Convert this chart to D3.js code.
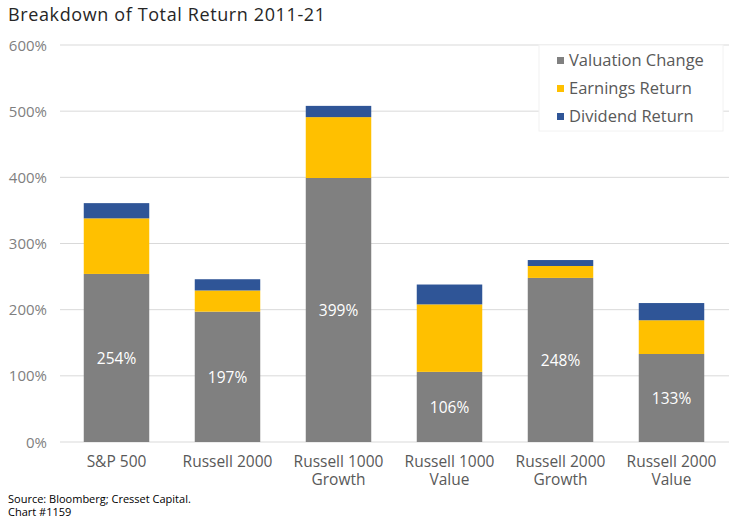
<!DOCTYPE html>
<html><head><meta charset="utf-8">
<script src="https://cdn.jsdelivr.net/npm/d3@7"></script>
<style>body{margin:0;background:#fff}svg{font-family:"Open Sans","Lato",sans-serif}</style>
</head><body>
<svg id="c" width="730" height="530"></svg>
<script>
const categories = [["S&P 500"],["Russell 2000"],["Russell 1000","Growth"],["Russell 1000","Value"],["Russell 2000","Growth"],["Russell 2000","Value"]];
const seriesNames = ["Valuation Change","Earnings Return","Dividend Return"];
const valuation = [254,197,399,106,248,133];
const earnings = [84,32,92,102,18,51];
const dividend = [23,17,17,30,9,26];
const yTicks = [0,100,200,300,400,500,600];
const colors = ["#808080","#FFC000","#2F5597"];

const svg = d3.select("#c");
const x = d3.scaleBand().domain(d3.range(categories.length)).range([61,727]).paddingInner(0.41).paddingOuter(0.205);
const y = d3.scaleLinear().domain([0,600]).range([442,45]);

svg.append("text").attr("x",8).attr("y",21).attr("font-size",18).attr("fill","#262626").attr("textLength",317).text("Breakdown of Total Return 2011-21");

const g = svg.append("g");
g.selectAll("line.grid").data(yTicks).join("line").attr("x1",60).attr("x2",729)
 .attr("y1",d=>y(d)).attr("y2",d=>y(d)).attr("stroke","#d9d9d9").attr("stroke-width",1);
g.selectAll("text.yt").data(yTicks).join("text").attr("x",47).attr("y",d=>y(d)+5.5)
 .attr("text-anchor","end").attr("font-size",15).attr("fill","#7f7f7f").text(d=>d+"%");

const data = valuation.map((v,i)=>({i, vals:[v,earnings[i],dividend[i]]}));
const stacked = d3.stack().keys([0,1,2]).value((d,k)=>d.vals[k])(data);
stacked.forEach((s,k)=>{
  g.selectAll("rect.s"+k).data(s).join("rect")
   .attr("x",d=>x(d.data.i)).attr("width",x.bandwidth())
   .attr("y",d=>y(d[1])).attr("height",d=>y(d[0])-y(d[1]))
   .attr("fill",colors[k]);
});
g.selectAll("text.lab").data(data).join("text")
 .attr("x",d=>x(d.i)+x.bandwidth()/2).attr("y",d=>y(d.vals[0]/2)+6)
 .attr("text-anchor","middle").attr("font-size",15.5).attr("fill","#fff").text(d=>d.vals[0]+"%");

categories.forEach((c,i)=>{
  const t = g.append("text").attr("x",x(i)+x.bandwidth()/2).attr("y",467).attr("text-anchor","middle")
     .attr("font-size",15.5).attr("fill","#595959");
  c.forEach((line,j)=>{
    t.append("tspan").attr("x",x(i)+x.bandwidth()/2).attr("dy",j===0?0:17.5).text(line);
  });
});

// legend
const lg = svg.append("g");
lg.append("rect").attr("x",539).attr("y",45).attr("width",184).attr("height",86).attr("fill","#fff").attr("stroke","#f2f2f2");
seriesNames.forEach((n,k)=>{
  lg.append("rect").attr("x",557).attr("y",57+k*28).attr("width",7).attr("height",7).attr("fill",colors[k]);
  lg.append("text").attr("x",569).attr("y",66+k*28).attr("font-size",16.5).attr("fill","#595959").text(n);
});

svg.append("text").attr("x",8).attr("y",503).attr("font-size",11).attr("fill","#000").text("Source: Bloomberg; Cresset Capital.");
svg.append("text").attr("x",8).attr("y",516).attr("font-size",11).attr("fill","#000").text("Chart #1159");
</script>
</body></html>
